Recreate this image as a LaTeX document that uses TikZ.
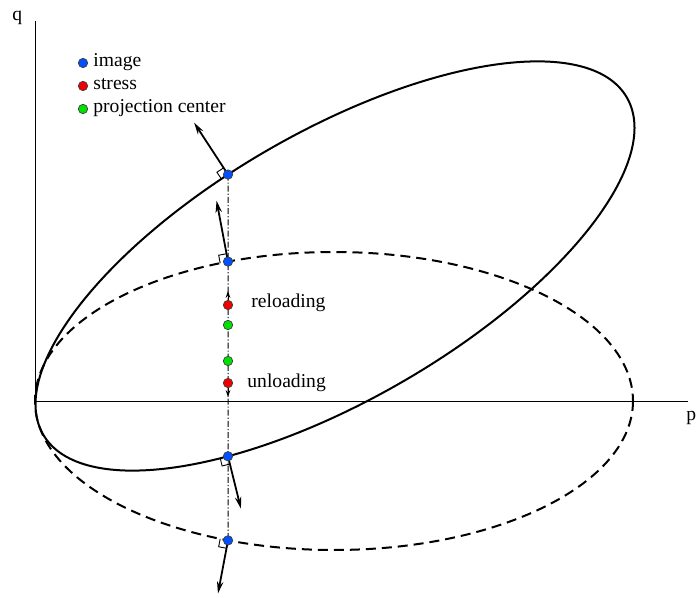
\documentclass[tikz,border=0pt]{standalone}
\usepackage{fontspec}
\setmainfont{Liberation Serif}
\usetikzlibrary{arrows.meta,calc,intersections}
\definecolor{imgblue}{RGB}{0,80,255}
\definecolor{strred}{RGB}{240,0,0}
\definecolor{pcgreen}{RGB}{0,225,0}
\begin{document}
\begin{tikzpicture}[x=0.5pt,y=-0.5pt,
  axis/.style={line width=0.5pt},
  curve/.style={line width=1pt},
  dashcurve/.style={line width=1pt, dash pattern=on 5pt off 3pt},
  normal/.style={line width=0.9pt,-{Stealth[length=6pt,width=3.2pt]}},
  guide/.style={line width=0.5pt, dash pattern=on 3pt off 1pt on 0.6pt off 1pt},
  smallarrow/.style={line width=0.5pt,-{Stealth[length=3.5pt,width=2.4pt]}},
  dot/.style={circle, draw=black!75, line width=0.35pt, inner sep=0pt, minimum size=4.7pt},
  lbl/.style={font=\fontsize{9.8}{12}\selectfont, inner sep=0pt, anchor=base west},
  rmark/.style={line width=0.45pt}]
\useasboundingbox (0,0) rectangle (696,598);
% axes
\coordinate (O) at (35,402);
\coordinate (qtop) at (35,21);
\coordinate (pend) at (688,402);
\draw[axis] (O) -- (qtop);
\draw[axis] (O) -- (pend);
\node[lbl] (q) at (12,21) {q};
\node[lbl] (p) at (686,421) {p};
% ellipses
\draw[dashcurve, name path=dashell] (334,401) ellipse [x radius=299, y radius=149];
\draw[curve, name path=solidell, rotate around={30:(335,266)}] (335,266) ellipse [x radius=337, y radius=134];
\path[name path=vline] (228,140) -- (228,590);
\path[name intersections={of=solidell and vline, name=S, sort by=vline}];
\path[name intersections={of=dashell and vline, name=D, sort by=vline}];
% guide line
\draw[guide] (S-1) -- (D-2);
% normals and right-angle marks
\coordinate (n1) at ($(S-1)+(-0.547*62,-0.837*62)$);
\draw[normal] (S-1) -- (n1);
\draw[rmark] ($(S-1)+(-0.837*8,0.547*8)$) -- ++(-0.547*8,-0.837*8) -- ($(S-1)+(-0.547*8,-0.837*8)$);
\coordinate (n2) at ($(D-1)+(-0.185*62,-0.983*62)$);
\draw[normal] (D-1) -- (n2);
\draw[rmark] ($(D-1)+(-0.983*8,0.185*8)$) -- ++(-0.185*8,-0.983*8) -- ($(D-1)+(-0.185*8,-0.983*8)$);
\coordinate (n3) at ($(S-2)+(0.24*54,0.971*54)$);
\draw[normal] (S-2) -- (n3);
\draw[rmark] ($(S-2)+(-0.971*8,0.24*8)$) -- ++(0.24*8,0.971*8) -- ($(S-2)+(0.24*8,0.971*8)$);
\coordinate (n4) at ($(D-2)+(-0.186*54,0.983*54)$);
\draw[normal] (D-2) -- (n4);
\draw[rmark] ($(D-2)+(-0.983*8,-0.186*8)$) -- ++(-0.186*8,0.983*8) -- ($(D-2)+(-0.186*8,0.983*8)$);
% image points
\node[dot, fill=imgblue] (b1) at (S-1) {};
\node[dot, fill=imgblue] (b2) at (D-1) {};
\node[dot, fill=imgblue] (b3) at (S-2) {};
\node[dot, fill=imgblue] (b4) at (D-2) {};
% stress and projection centers
\node[dot, fill=strred] (r1) at (228,305) {};
\node[dot, fill=pcgreen] (g1) at (228,325) {};
\node[dot, fill=pcgreen] (g2) at (228,361) {};
\node[dot, fill=strred] (r2) at (228,383) {};
\coordinate (up) at (228,291);
\coordinate (dn) at (228,397);
\draw[smallarrow] (r1) -- (up);
\draw[smallarrow] (r2) -- (dn);
\node[lbl] (rl) at (251,308) {reloading};
\node[lbl] (ul) at (247,388) {unloading};
% legend
\node[dot, fill=imgblue] (lg1) at (83,63) {};
\node[lbl] (lt1) at (93,67) {image};
\node[dot, fill=strred] (lg2) at (83,86) {};
\node[lbl] (lt2) at (93,90) {stress};
\node[dot, fill=pcgreen] (lg3) at (83,109) {};
\node[lbl] (lt3) at (93,113) {projection center};
\end{tikzpicture}
\end{document}
